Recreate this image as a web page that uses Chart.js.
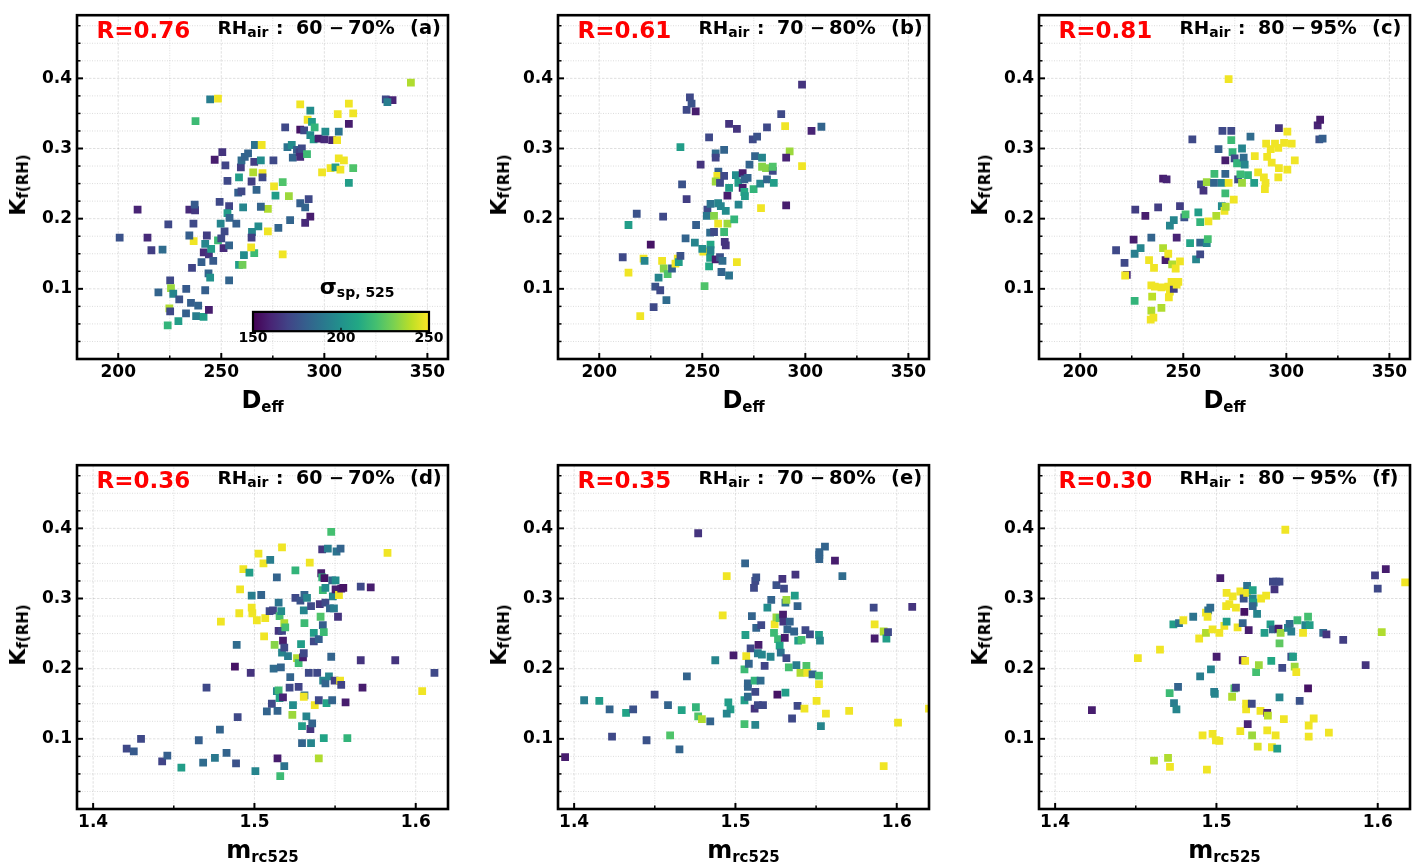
<!DOCTYPE html>
<html><head><meta charset="utf-8">
<script src="https://cdn.jsdelivr.net/npm/chart.js@4.4.1/dist/chart.umd.min.js"></script>
<style>
html,body{margin:0;padding:0;background:#fff;width:1419px;height:868px;overflow:hidden;position:relative;}
canvas{position:absolute;}
.t{position:absolute;white-space:nowrap;line-height:1;font-weight:bold;font-family:"DejaVu Sans",sans-serif;color:#000;}
</style></head><body>
<script>
// ---------------- DATA ----------------
// each point: [x value, kappa_f(RH), sigma_sp,525]
const pointsA = [[200.7,0.173,175],[209.4,0.213,160],[214.2,0.173,162],[216.1,0.155,168],[221.5,0.156,185],[224.3,0.192,172],[219.5,0.095,182],[225.2,0.112,172],[225.6,0.101,235],[226.7,0.093,195],[224.8,0.072,238],[225.2,0.068,172],[224.0,0.048,215],[229.2,0.054,205],[229.6,0.085,175],[233.0,0.100,178],[232.9,0.065,180],[235.3,0.080,180],[238.8,0.076,182],[237.8,0.061,192],[241.4,0.060,205],[244.0,0.070,158],[242.2,0.098,180],[235.8,0.130,170],[240.4,0.138,180],[241.5,0.152,162],[244.0,0.149,165],[246.1,0.140,178],[243.8,0.122,182],[244.6,0.116,200],[245.1,0.157,205],[242.2,0.164,195],[236.6,0.168,248],[234.5,0.176,180],[236.5,0.193,172],[234.5,0.213,162],[237.3,0.212,166],[237.1,0.220,178],[243.0,0.176,168],[248.4,0.169,218],[250.0,0.172,172],[251.6,0.182,172],[251.1,0.158,162],[253.8,0.162,182],[253.8,0.112,182],[249.2,0.224,172],[253.8,0.218,170],[249.7,0.193,195],[253.0,0.208,205],[254.0,0.201,182],[257.3,0.193,180],[258.6,0.134,205],[260.3,0.134,228],[261.0,0.148,198],[266.0,0.151,218],[264.5,0.159,248],[264.9,0.181,195],[264.7,0.173,168],[268.0,0.189,198],[272.6,0.182,248],[277.7,0.187,182],[279.8,0.149,248],[283.4,0.198,182],[272.6,0.214,238],[269.2,0.217,182],[260.6,0.216,195],[258.2,0.237,180],[259.8,0.239,172],[267.1,0.241,182],[264.7,0.253,168],[253.0,0.254,172],[258.6,0.259,205],[265.5,0.266,238],[270.0,0.265,248],[270.0,0.259,172],[276.3,0.233,205],[279.8,0.252,222],[275.6,0.246,248],[282.8,0.232,235],[288.3,0.222,180],[290.7,0.216,182],[292.4,0.228,172],[293.2,0.203,158],[290.7,0.194,162],[246.8,0.284,158],[250.5,0.295,165],[252.0,0.276,170],[259.5,0.273,168],[259.8,0.283,185],[261.4,0.288,182],[263.0,0.293,182],[266.3,0.305,188],[269.6,0.305,248],[266.0,0.281,168],[269.2,0.283,198],[275.3,0.283,172],[281.0,0.330,172],[282.1,0.302,188],[284.2,0.305,198],[284.7,0.287,182],[286.7,0.298,180],[288.0,0.295,168],[289.1,0.300,172],[288.3,0.288,162],[291.6,0.292,218],[288.3,0.363,248],[288.3,0.327,155],[290.2,0.326,172],[291.9,0.341,248],[293.2,0.354,198],[294.0,0.338,205],[295.3,0.330,215],[293.2,0.319,198],[294.8,0.313,205],[297.2,0.314,158],[300.0,0.313,162],[300.5,0.324,198],[303.8,0.312,160],[306.2,0.312,248],[307.0,0.324,188],[306.5,0.349,248],[311.9,0.364,248],[314.0,0.350,248],[311.9,0.335,158],[298.9,0.266,248],[303.0,0.272,248],[305.4,0.273,205],[307.0,0.286,248],[309.5,0.283,248],[307.8,0.270,248],[314.0,0.272,222],[311.9,0.251,205],[329.8,0.370,172],[333.1,0.369,160],[330.6,0.366,192],[342.0,0.394,238],[244.6,0.370,192],[248.4,0.371,248],[237.5,0.339,218]];
const pointsB = [[211.4,0.145,172],[214.2,0.123,248],[214.2,0.191,205],[218.2,0.207,175],[219.9,0.061,248],[221.5,0.143,248],[222.0,0.140,195],[225.0,0.163,155],[226.4,0.074,172],[227.2,0.103,175],[229.6,0.098,172],[228.8,0.116,195],[232.6,0.084,185],[231.0,0.203,172],[230.5,0.140,248],[231.3,0.129,232],[233.2,0.121,222],[235.3,0.129,180],[237.0,0.136,248],[238.1,0.143,248],[238.6,0.138,205],[239.4,0.147,175],[240.2,0.249,175],[239.4,0.302,205],[241.9,0.172,182],[242.4,0.228,168],[242.4,0.355,172],[244.0,0.373,172],[244.8,0.364,175],[246.8,0.353,158],[246.4,0.166,195],[247.0,0.191,180],[249.2,0.277,165],[250.5,0.153,248],[250.0,0.157,198],[251.1,0.104,222],[253.3,0.132,210],[253.8,0.144,205],[254.0,0.163,210],[254.0,0.155,195],[253.8,0.180,185],[252.5,0.213,172],[252.2,0.204,190],[254.0,0.221,188],[255.7,0.204,232],[255.7,0.181,172],[256.5,0.142,158],[253.3,0.316,172],[256.5,0.293,185],[256.5,0.287,170],[260.6,0.298,182],[257.8,0.267,180],[257.3,0.261,248],[256.5,0.253,235],[258.6,0.251,172],[260.6,0.261,172],[257.7,0.222,195],[259.0,0.218,195],[261.4,0.211,198],[257.7,0.193,248],[262.2,0.193,235],[260.6,0.181,218],[260.9,0.167,165],[261.4,0.162,165],[258.6,0.145,175],[259.8,0.140,185],[259.3,0.124,182],[263.0,0.119,188],[266.8,0.138,248],[262.2,0.233,158],[263.0,0.244,205],[265.5,0.199,215],[263.0,0.335,165],[266.8,0.328,165],[266.3,0.262,198],[267.5,0.251,205],[267.6,0.220,195],[269.6,0.265,158],[270.4,0.256,182],[269.6,0.244,158],[270.4,0.238,210],[270.7,0.232,205],[272.0,0.258,182],[272.9,0.277,182],[274.5,0.313,172],[276.6,0.317,175],[275.6,0.289,182],[279.0,0.287,195],[274.9,0.242,215],[278.1,0.250,195],[278.5,0.215,248],[279.0,0.274,232],[280.9,0.272,232],[281.4,0.330,172],[281.4,0.256,182],[284.2,0.268,172],[284.2,0.274,222],[284.7,0.251,205],[288.3,0.349,172],[290.2,0.332,248],[292.4,0.296,235],[290.7,0.287,160],[290.7,0.219,158],[298.4,0.391,165],[298.4,0.275,248],[303.0,0.325,160],[307.8,0.331,182]];
const pointsC = [[217.4,0.155,172],[221.5,0.137,172],[222.6,0.120,162],[221.8,0.119,248],[225.9,0.170,158],[226.7,0.213,168],[226.4,0.150,192],[229.3,0.158,195],[226.4,0.083,215],[231.6,0.204,158],[234.5,0.173,182],[237.8,0.216,168],[233.4,0.141,248],[235.8,0.130,248],[234.5,0.105,248],[236.2,0.103,248],[234.9,0.089,240],[234.5,0.069,238],[234.2,0.056,248],[235.5,0.059,248],[239.4,0.073,238],[239.4,0.102,248],[240.2,0.158,238],[241.4,0.141,158],[242.7,0.150,248],[242.7,0.103,248],[243.5,0.096,248],[243.0,0.088,248],[245.4,0.100,168],[244.3,0.110,248],[246.8,0.106,248],[247.6,0.110,248],[244.6,0.135,238],[246.3,0.129,248],[248.4,0.139,248],[240.2,0.257,158],[241.9,0.256,160],[248.4,0.218,168],[246.8,0.173,160],[243.5,0.190,195],[245.4,0.198,195],[250.5,0.202,175],[251.1,0.206,220],[253.3,0.165,208],[254.4,0.313,172],[256.2,0.142,195],[257.3,0.209,205],[258.2,0.195,215],[258.2,0.166,182],[258.2,0.149,172],[261.4,0.165,195],[261.9,0.171,220],[258.6,0.249,172],[259.8,0.240,165],[261.4,0.252,235],[262.2,0.196,248],[265.1,0.264,218],[264.9,0.251,182],[266.0,0.204,238],[267.1,0.299,178],[269.0,0.325,172],[273.3,0.325,172],[273.3,0.312,218],[270.4,0.283,158],[270.4,0.264,182],[268.7,0.251,195],[268.7,0.218,198],[270.4,0.236,218],[270.0,0.211,248],[270.6,0.217,238],[272.0,0.251,248],[274.5,0.227,248],[273.9,0.295,215],[274.9,0.286,172],[276.1,0.279,215],[276.6,0.256,172],[277.7,0.263,218],[278.5,0.300,195],[279.3,0.287,185],[279.8,0.277,195],[278.5,0.251,235],[281.4,0.262,215],[282.6,0.317,185],[284.4,0.251,205],[284.7,0.289,248],[286.3,0.266,248],[289.1,0.259,248],[289.9,0.251,248],[289.6,0.242,248],[290.2,0.307,248],[290.7,0.288,248],[292.4,0.299,248],[292.9,0.280,248],[294.5,0.307,248],[296.1,0.301,248],[296.4,0.329,165],[296.4,0.272,248],[296.1,0.259,248],[298.9,0.308,248],[300.5,0.324,248],[300.5,0.270,248],[302.6,0.307,248],[304.1,0.283,248],[315.2,0.333,160],[316.4,0.341,158],[316.0,0.313,175],[317.6,0.314,180],[272.0,0.399,248]];
const pointsD = [[1.4208,0.086,172],[1.4252,0.082,178],[1.4297,0.100,172],[1.4428,0.068,170],[1.4460,0.076,180],[1.4547,0.059,205],[1.4655,0.098,180],[1.4682,0.066,185],[1.4703,0.173,172],[1.4755,0.073,190],[1.4786,0.113,182],[1.4827,0.080,182],[1.4886,0.065,175],[1.4890,0.234,185],[1.4879,0.203,155],[1.4896,0.131,172],[1.4977,0.194,165],[1.5006,0.054,195],[1.4792,0.267,248],[1.4906,0.279,248],[1.4911,0.313,248],[1.4931,0.342,248],[1.4969,0.337,205],[1.4983,0.304,192],[1.4983,0.287,248],[1.4987,0.279,248],[1.5015,0.269,248],[1.5025,0.364,248],[1.5042,0.305,182],[1.5056,0.350,248],[1.5067,0.272,248],[1.5060,0.246,248],[1.5077,0.139,182],[1.5098,0.355,192],[1.5094,0.282,172],[1.5115,0.283,170],[1.5108,0.150,172],[1.5119,0.200,185],[1.5125,0.234,232],[1.5139,0.330,182],[1.5139,0.168,195],[1.5143,0.072,158],[1.5143,0.140,182],[1.5150,0.294,188],[1.5156,0.275,220],[1.5150,0.254,165],[1.5171,0.254,170],[1.5166,0.282,198],[1.5164,0.202,182],[1.5171,0.223,195],[1.5177,0.240,158],[1.5185,0.230,172],[1.5150,0.169,218],[1.5156,0.158,208],[1.5177,0.159,160],[1.5160,0.047,218],[1.5185,0.061,188],[1.5171,0.373,248],[1.5185,0.265,238],[1.5191,0.259,220],[1.5208,0.218,192],[1.5222,0.188,182],[1.5218,0.173,172],[1.5239,0.148,198],[1.5235,0.134,235],[1.5254,0.340,215],[1.5254,0.301,172],[1.5264,0.215,238],[1.5274,0.208,218],[1.5274,0.174,170],[1.5285,0.297,175],[1.5289,0.235,205],[1.5295,0.094,182],[1.5295,0.118,205],[1.5301,0.216,158],[1.5306,0.222,172],[1.5306,0.283,195],[1.5310,0.305,182],[1.5310,0.265,218],[1.5310,0.162,185],[1.5306,0.160,248],[1.5322,0.132,195],[1.5326,0.301,195],[1.5337,0.194,172],[1.5343,0.351,248],[1.5347,0.114,165],[1.5351,0.094,195],[1.5358,0.122,182],[1.5351,0.289,172],[1.5368,0.251,205],[1.5368,0.239,172],[1.5374,0.148,248],[1.5389,0.194,172],[1.5399,0.072,238],[1.5399,0.155,172],[1.5399,0.242,180],[1.5405,0.292,165],[1.5410,0.274,222],[1.5414,0.336,158],[1.5420,0.370,165],[1.5420,0.330,215],[1.5424,0.312,218],[1.5424,0.262,180],[1.5426,0.183,195],[1.5430,0.252,218],[1.5430,0.101,208],[1.5434,0.329,155],[1.5440,0.315,198],[1.5440,0.294,172],[1.5440,0.179,182],[1.5447,0.151,208],[1.5455,0.371,192],[1.5462,0.189,195],[1.5468,0.286,182],[1.5476,0.217,182],[1.5482,0.326,182],[1.5482,0.155,182],[1.5476,0.395,220],[1.5486,0.303,195],[1.5493,0.286,192],[1.5497,0.183,168],[1.5503,0.326,198],[1.5503,0.313,158],[1.5509,0.367,188],[1.5518,0.274,165],[1.5524,0.305,248],[1.5531,0.183,248],[1.5534,0.371,182],[1.5538,0.314,158],[1.5551,0.315,155],[1.5538,0.177,170],[1.5565,0.152,158],[1.5576,0.101,215],[1.5659,0.317,172],[1.5659,0.212,165],[1.5670,0.173,158],[1.5721,0.316,158],[1.5825,0.365,248],[1.5873,0.212,165],[1.6040,0.168,248],[1.6116,0.194,172]];
const pointsE = [[1.3944,0.074,158],[1.4062,0.155,192],[1.4156,0.154,205],[1.4220,0.142,182],[1.4235,0.103,172],[1.4322,0.137,208],[1.4366,0.142,175],[1.4449,0.098,175],[1.4499,0.163,172],[1.4582,0.148,182],[1.4595,0.105,222],[1.4653,0.085,182],[1.4667,0.141,208],[1.4699,0.189,182],[1.4755,0.145,215],[1.4769,0.393,165],[1.4769,0.132,222],[1.4792,0.128,238],[1.4844,0.125,182],[1.4875,0.212,195],[1.4921,0.276,248],[1.4946,0.332,248],[1.4956,0.152,205],[1.4969,0.142,205],[1.4946,0.136,195],[1.4988,0.219,158],[1.5056,0.121,220],[1.5056,0.155,205],[1.5056,0.199,218],[1.5062,0.248,205],[1.5060,0.350,182],[1.5067,0.218,248],[1.5077,0.179,182],[1.5077,0.174,182],[1.5083,0.207,182],[1.5077,0.160,185],[1.5094,0.229,172],[1.5102,0.275,182],[1.5115,0.315,172],[1.5123,0.325,172],[1.5129,0.330,175],[1.5119,0.183,215],[1.5119,0.143,165],[1.5123,0.120,195],[1.5123,0.167,172],[1.5129,0.258,182],[1.5139,0.222,192],[1.5143,0.234,158],[1.5156,0.183,185],[1.5139,0.148,172],[1.5160,0.262,172],[1.5164,0.220,195],[1.5171,0.148,172],[1.5181,0.204,170],[1.5198,0.287,198],[1.5222,0.298,182],[1.5218,0.217,195],[1.5239,0.251,218],[1.5243,0.263,248],[1.5254,0.319,175],[1.5254,0.273,235],[1.5260,0.163,155],[1.5264,0.242,218],[1.5274,0.233,208],[1.5274,0.272,222],[1.5281,0.223,188],[1.5291,0.328,165],[1.5295,0.277,158],[1.5297,0.267,165],[1.5301,0.314,172],[1.5306,0.244,158],[1.5310,0.294,188],[1.5310,0.166,205],[1.5316,0.298,235],[1.5316,0.215,172],[1.5322,0.256,182],[1.5331,0.202,220],[1.5337,0.267,182],[1.5351,0.129,172],[1.5364,0.253,182],[1.5368,0.304,205],[1.5372,0.334,165],[1.5378,0.205,192],[1.5385,0.289,182],[1.5389,0.240,205],[1.5385,0.147,172],[1.5410,0.241,220],[1.5403,0.194,238],[1.5428,0.143,248],[1.5434,0.255,172],[1.5440,0.204,222],[1.5445,0.194,248],[1.5462,0.249,172],[1.5478,0.192,182],[1.5503,0.154,248],[1.5518,0.190,218],[1.5518,0.178,248],[1.5520,0.362,182],[1.5520,0.356,182],[1.5520,0.366,182],[1.5518,0.248,205],[1.5524,0.240,195],[1.5530,0.118,195],[1.5555,0.374,182],[1.5561,0.136,248],[1.5617,0.354,158],[1.5663,0.332,185],[1.5705,0.140,248],[1.5857,0.287,172],[1.5863,0.263,248],[1.5863,0.243,158],[1.5919,0.253,238],[1.5936,0.243,205],[1.5946,0.252,172],[1.5919,0.061,248],[1.6008,0.123,248],[1.6096,0.288,165],[1.6200,0.143,248]];
const pointsF = [[1.4228,0.141,158],[1.4513,0.215,248],[1.4613,0.069,238],[1.4700,0.073,238],[1.4712,0.060,248],[1.4650,0.227,248],[1.4710,0.165,218],[1.4737,0.151,192],[1.4752,0.142,195],[1.4762,0.174,182],[1.4733,0.263,205],[1.4768,0.265,188],[1.4795,0.269,248],[1.4856,0.274,188],[1.4899,0.189,192],[1.4893,0.243,248],[1.4914,0.105,248],[1.4935,0.251,238],[1.4935,0.280,248],[1.4949,0.283,188],[1.4962,0.287,185],[1.4945,0.274,248],[1.4941,0.056,248],[1.4966,0.199,195],[1.4976,0.256,248],[1.4976,0.107,248],[1.4986,0.167,192],[1.4990,0.164,195],[1.4997,0.098,248],[1.5018,0.097,248],[1.5001,0.217,158],[1.5018,0.251,248],[1.5024,0.329,158],[1.5049,0.261,248],[1.5060,0.289,248],[1.5063,0.308,248],[1.5063,0.267,205],[1.5080,0.292,248],[1.5097,0.160,238],[1.5101,0.303,248],[1.5111,0.172,222],[1.5121,0.287,248],[1.5121,0.173,170],[1.5131,0.259,248],[1.5148,0.310,248],[1.5148,0.111,248],[1.5163,0.265,182],[1.5169,0.300,175],[1.5173,0.281,155],[1.5163,0.212,158],[1.5178,0.211,248],[1.5184,0.150,248],[1.5184,0.142,248],[1.5194,0.121,160],[1.5190,0.318,188],[1.5190,0.308,248],[1.5200,0.255,158],[1.5219,0.150,172],[1.5221,0.105,235],[1.5225,0.312,208],[1.5225,0.300,195],[1.5231,0.294,205],[1.5225,0.289,182],[1.5252,0.278,195],[1.5246,0.195,220],[1.5263,0.205,235],[1.5256,0.089,245],[1.5273,0.140,248],[1.5277,0.300,248],[1.5298,0.251,205],[1.5308,0.304,248],[1.5315,0.137,160],[1.5319,0.133,240],[1.5315,0.112,248],[1.5335,0.263,205],[1.5340,0.211,210],[1.5344,0.088,248],[1.5350,0.256,182],[1.5350,0.324,172],[1.5360,0.313,165],[1.5367,0.105,248],[1.5371,0.324,172],[1.5377,0.086,205],[1.5385,0.257,158],[1.5391,0.159,195],[1.5391,0.236,225],[1.5391,0.324,172],[1.5398,0.251,235],[1.5408,0.201,172],[1.5418,0.128,248],[1.5427,0.398,248],[1.5443,0.258,195],[1.5454,0.264,185],[1.5464,0.253,192],[1.5464,0.217,175],[1.5475,0.217,205],[1.5485,0.203,235],[1.5495,0.195,248],[1.5502,0.269,218],[1.5516,0.154,175],[1.5537,0.251,248],[1.5551,0.262,195],[1.5568,0.274,220],[1.5568,0.172,155],[1.5578,0.262,205],[1.5572,0.119,248],[1.5572,0.103,248],[1.5603,0.129,248],[1.5662,0.251,185],[1.5682,0.249,165],[1.5697,0.109,248],[1.5786,0.241,168],[1.5925,0.205,165],[1.5983,0.333,168],[1.6000,0.314,172],[1.6050,0.342,158],[1.6025,0.252,238],[1.6170,0.323,248]];

const rLabels = ['R=0.76','R=0.61','R=0.81','R=0.36','R=0.35','R=0.30'];
const rhRanges = [['60','70'],['70','80'],['80','95'],['60','70'],['70','80'],['80','95']];
const panelTags = ['(a)','(b)','(c)','(d)','(e)','(f)'];
const dTicks = [200,250,300,350];
const dMinor = [225,275,325];
const mTicks = [1.4,1.5,1.6];
const mMinor = [1.45,1.55];
const yTicks = [0.1,0.2,0.3,0.4];
const yMinor = [0.025,0.05,0.075,0.125,0.15,0.175,0.225,0.25,0.275,0.325,0.35,0.375,0.425,0.45,0.475];
const cbarTicks = [150,200,250];
const sigmaMin = 150, sigmaMax = 250;

// ---------------- STYLE ----------------
const viridisStops = ['#440154','#482475','#414487','#355f8d','#2a788e','#21918c','#22a884','#44bf70','#7ad151','#bddf26','#fde725'];
function hexRgb(h){return [parseInt(h.slice(1,3),16),parseInt(h.slice(3,5),16),parseInt(h.slice(5,7),16)];}
function viridis(t){
  t=Math.max(0,Math.min(1,t)); const n=viridisStops.length-1;
  const i=Math.min(n-1,Math.floor(t*n)); const f=t*n-i;
  const a=hexRgb(viridisStops[i]), b=hexRgb(viridisStops[i+1]);
  return 'rgb('+a.map((v,k)=>Math.round(v+(b[k]-v)*f)).join(',')+')';
}
const sigmaColor = s => viridis((s-sigmaMin)/(sigmaMax-sigmaMin));

const axisD = {min:180,max:360,ticks:dTicks,minor:dMinor,fmt:v=>String(v),title:'D',sub:'eff'};
const axisM = {min:1.39,max:1.62,ticks:mTicks,minor:mMinor,fmt:v=>v.toFixed(1),title:'m',sub:'rc525'};
const Y_MIN = 0, Y_MAX = 0.49;
const W = 371, H = 349, YW = 77, CW = 455, CH = 415;
const cbarBox = {dx:176, dy:296.7, w:176, h:19.3};

const panels = [
  {pts:pointsA, ax:axisD, L:77,   T:10,  cbar:true},
  {pts:pointsB, ax:axisD, L:558,  T:10},
  {pts:pointsC, ax:axisD, L:1039, T:10},
  {pts:pointsD, ax:axisM, L:77,   T:460},
  {pts:pointsE, ax:axisM, L:558,  T:460},
  {pts:pointsF, ax:axisM, L:1039, T:460}
];

const decor = {
  id:'decor',
  beforeDatasetsDraw(chart, args, o){
    const {ctx, chartArea:a, scales:{x,y}} = chart;
    ctx.save();
    ctx.beginPath(); ctx.rect(a.left,a.top,a.right-a.left,a.bottom-a.top); ctx.clip();
    const vline=(v,maj)=>{const p=x.getPixelForValue(v);ctx.strokeStyle=maj?'rgba(0,0,0,0.14)':'rgba(0,0,0,0.16)';ctx.setLineDash(maj?[2.5,1.5]:[1,1.5]);ctx.beginPath();ctx.moveTo(p,a.top);ctx.lineTo(p,a.bottom);ctx.stroke();};
    const hline=(v,maj)=>{const p=y.getPixelForValue(v);ctx.strokeStyle=maj?'rgba(0,0,0,0.14)':'rgba(0,0,0,0.16)';ctx.setLineDash(maj?[2.5,1.5]:[1,1.5]);ctx.beginPath();ctx.moveTo(a.left,p);ctx.lineTo(a.right,p);ctx.stroke();};
    ctx.lineWidth=0.9;
    o.ax.ticks.forEach(v=>vline(v,true)); o.ax.minor.forEach(v=>vline(v,false));
    yTicks.forEach(v=>hline(v,true)); yMinor.forEach(v=>hline(v,false));
    ctx.restore();
  },
  afterDatasetsDraw(chart, args, o){
    const {ctx, chartArea:a, scales:{x,y}} = chart;
    ctx.save();
    if (o.cbar){
      const l=a.left+cbarBox.dx, t=a.top+cbarBox.dy;
      const g=ctx.createLinearGradient(l,0,l+cbarBox.w,0);
      viridisStops.forEach((c,i)=>g.addColorStop(i/(viridisStops.length-1),c));
      ctx.fillStyle=g; ctx.fillRect(l,t,cbarBox.w,cbarBox.h);
      ctx.strokeStyle='#000'; ctx.lineWidth=1.3;
      cbarTicks.forEach(v=>{const p=l+(v-sigmaMin)/(sigmaMax-sigmaMin)*cbarBox.w;ctx.beginPath();ctx.moveTo(p,t+cbarBox.h);ctx.lineTo(p,t+cbarBox.h-3.5);ctx.stroke();});
      ctx.lineWidth=2.2; ctx.strokeRect(l,t,cbarBox.w,cbarBox.h);
    }
    ctx.strokeStyle='#000'; ctx.setLineDash([]);
    ctx.lineWidth=2;
    yTicks.forEach(v=>{const p=y.getPixelForValue(v);ctx.beginPath();ctx.moveTo(a.left-1,p);ctx.lineTo(a.left+6,p);ctx.stroke();});
    o.ax.ticks.forEach(v=>{const p=x.getPixelForValue(v);ctx.beginPath();ctx.moveTo(p,a.bottom+1);ctx.lineTo(p,a.bottom-6);ctx.stroke();});
    ctx.lineWidth=1.5;
    yMinor.forEach(v=>{const p=y.getPixelForValue(v);ctx.beginPath();ctx.moveTo(a.left,p);ctx.lineTo(a.left+3.5,p);ctx.stroke();});
    o.ax.minor.forEach(v=>{const p=x.getPixelForValue(v);ctx.beginPath();ctx.moveTo(p,a.bottom);ctx.lineTo(p,a.bottom-3.5);ctx.stroke();});
    ctx.lineWidth=2.6;
    ctx.strokeRect(a.left,a.top,a.right-a.left,a.bottom-a.top);
    ctx.restore();
  }
};

const tickFont = {family:'DejaVu Sans', size:17, weight:'bold'};
panels.forEach((p,i)=>{
  const cv=document.createElement('canvas');
  cv.width=CW; cv.height=CH;
  cv.style.left=(p.L-YW)+'px'; cv.style.top=(p.T-10)+'px';
  cv.style.width=CW+'px'; cv.style.height=CH+'px';
  document.body.appendChild(cv);
  new Chart(cv,{
    type:'scatter',
    data:{datasets:[{
      data:p.pts.map(q=>({x:q[0],y:q[1]})),
      pointStyle:'rect', pointRadius:5.5, pointHoverRadius:5.5,
      pointBackgroundColor:p.pts.map(q=>sigmaColor(q[2])),
      pointBorderWidth:0, showLine:false, clip:0
    }]},
    options:{
      responsive:false, animation:false, events:[],
      layout:{padding:{left:0,top:10,right:CW-YW-W,bottom:0}},
      plugins:{legend:{display:false},tooltip:{enabled:false},decor:{ax:p.ax,cbar:!!p.cbar}},
      scales:{
        x:{type:'linear',min:p.ax.min,max:p.ax.max,
           afterBuildTicks:s=>{s.ticks=p.ax.ticks.map(v=>({value:v}));},
           ticks:{font:tickFont,color:'#000',padding:3,maxRotation:0,autoSkip:false,callback:v=>p.ax.fmt(v)},
           grid:{display:false,drawTicks:false},border:{display:false},
           afterFit:s=>{s.height=CH-10-H;}},
        y:{type:'linear',min:Y_MIN,max:Y_MAX,
           afterBuildTicks:s=>{s.ticks=yTicks.map(v=>({value:v}));},
           ticks:{font:tickFont,color:'#000',padding:5,autoSkip:false,callback:v=>v.toFixed(1)},
           grid:{display:false,drawTicks:false},border:{display:false},
           afterFit:s=>{s.width=YW;}}
      }
    },
    plugins:[decor]
  });
});

// ---------------- TEXT ----------------
function addText(x, base, html, fs, opt){
  opt=opt||{};
  const d=document.createElement('div'); d.className='t';
  d.style.fontSize=fs+'px'; d.style.left=x+'px'; d.style.top=(base-0.846*fs)+'px';
  if(opt.center) d.style.transform='translateX(-50%)';
  if(opt.color) d.style.color=opt.color;
  d.innerHTML=html; document.body.appendChild(d); return d;
}
const sub=(t,fs,dy)=>'<span style="font-size:'+fs+'px;position:relative;top:'+dy+'px">'+t+'</span>';

panels.forEach((p,i)=>{
  const L=p.L, T=p.T;
  addText(L+19.5, T+28.3, rLabels[i], 23, {color:'#ff0000'});
  addText(L+140.5, T+24.3, 'RH'+sub('air',14,3.5), 18.5);
  addText(L+199, T+24.3, ':', 18.5);
  addText(L+219, T+24.3, rhRanges[i][0], 19);
  addText(L+259.5, T+24.3, '\u2212', 18, {center:true});
  addText(L+271, T+24.3, rhRanges[i][1]+'%', 19.5);
  addText(L+333, T+24.3, panelTags[i], 19.5);
  addText(L+W/2, T+398, p.ax.title+sub(p.ax.sub,15,4), 24, {center:true});
  const d=document.createElement('div'); d.className='t';
  d.style.fontSize='22px'; d.style.left=(L-59)+'px'; d.style.top=(T+H/2)+'px';
  d.style.transform='translate(-50%,-50%) rotate(-90deg)';
  d.innerHTML='K'+sub('f(RH)',15,3);
  document.body.appendChild(d);
  if(p.cbar){
    cbarTicks.forEach(v=>{
      const px=L+cbarBox.dx+(v-sigmaMin)/(sigmaMax-sigmaMin)*cbarBox.w;
      addText(px, T+331.5, String(v), 14, {center:true});
    });
    addText(L+242.7, T+285, '\u03c3'+sub('sp, 525',14,3), 22);
  }
});
</script>
</body></html>
